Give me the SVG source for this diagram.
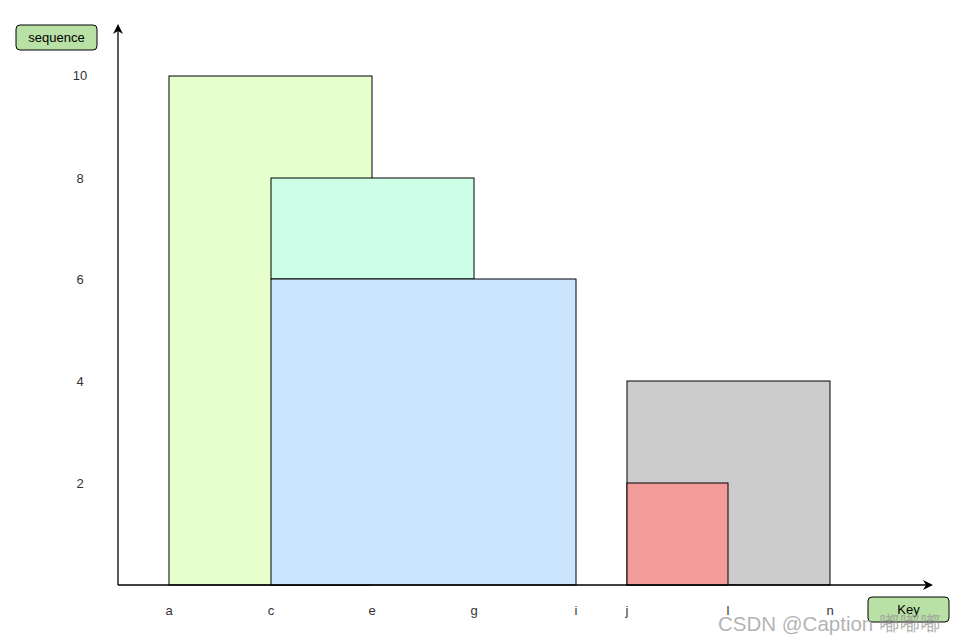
<svg xmlns="http://www.w3.org/2000/svg" width="967" height="644" viewBox="0 0 967 644">
<style>
.bar{stroke:#000;stroke-width:1}
.lbl{font-family:"Liberation Sans",Arial,sans-serif;font-size:13px;fill:#333;text-anchor:middle}
.tag{fill:#B9E0A5;stroke:#000;stroke-width:1}
.tagt{font-family:"Liberation Sans",Arial,sans-serif;font-size:13px;fill:#000;text-anchor:middle}
.axis{stroke:#000;stroke-width:1.3;fill:none}
</style>
<defs>
<marker id="arr" markerWidth="10" markerHeight="10" refX="8" refY="5" orient="auto" markerUnits="userSpaceOnUse">
<path d="M0,0 L10,5 L0,10 L3,5 Z" fill="#000"/>
</marker>
</defs>
<rect width="967" height="644" fill="#fff"/>
<g id="bar-a-e"><rect class="bar" x="169" y="76" width="203" height="509" fill="#E6FFCC"/></g>
<g id="bar-c-g"><rect class="bar" x="271" y="178" width="203" height="101" fill="#CCFFE6"/></g>
<g id="bar-c-i"><rect class="bar" x="271" y="279" width="305" height="306" fill="#CCE5FF"/></g>
<g id="bar-j-n"><rect class="bar" x="627" y="381" width="203" height="204" fill="#CCCCCC"/></g>
<g id="bar-j-l"><rect class="bar" x="627" y="483" width="101" height="102" fill="#F19C99"/></g>
<g id="connectors">
<line class="axis" x1="118" y1="585" x2="118" y2="26" marker-end="url(#arr)"/>
<line class="axis" x1="118" y1="585" x2="931" y2="585" marker-end="url(#arr)"/>
</g>
<g id="y-labels">
<text class="lbl" x="80" y="80">10</text>
<text class="lbl" x="80" y="183">8</text>
<text class="lbl" x="80" y="284">6</text>
<text class="lbl" x="80" y="386">4</text>
<text class="lbl" x="80" y="488">2</text>
</g>
<g id="x-labels">
<text class="lbl" x="169" y="615">a</text>
<text class="lbl" x="271" y="615">c</text>
<text class="lbl" x="372" y="615">e</text>
<text class="lbl" x="474" y="615">g</text>
<text class="lbl" x="576" y="615">i</text>
<text class="lbl" x="627" y="615">j</text>
<text class="lbl" x="728" y="615">l</text>
<text class="lbl" x="830" y="615">n</text>
</g>
<g id="sequence"><rect class="tag" x="16" y="25" width="81" height="25" rx="4"/><text class="tagt" x="56.5" y="42">sequence</text></g>
<g id="key"><rect class="tag" x="868" y="597" width="81" height="25" rx="4"/><text class="tagt" x="908.5" y="614">Key</text></g>
<text x="718" y="631" font-family="'Liberation Sans','Noto Sans CJK SC',sans-serif" font-size="20.5" fill="#999" fill-opacity="0.75">CSDN @Caption 嘟嘟嘟</text>
</svg>
